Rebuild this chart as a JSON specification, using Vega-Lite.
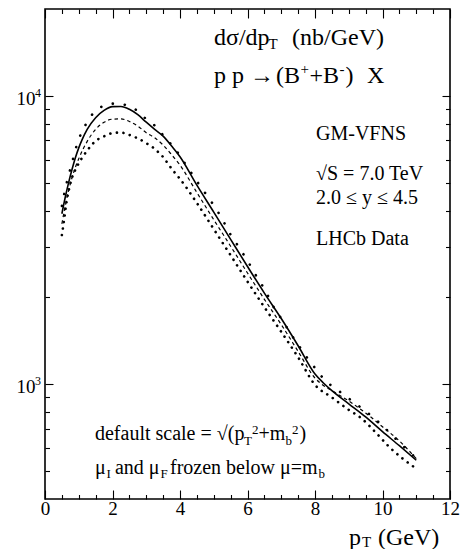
{
  "$schema": "https://vega.github.io/schema/vega-lite/v6.json",
  "width": 405,
  "height": 490,
  "autosize": {"type": "none"},
  "padding": {"left": 45, "right": 10, "top": 9, "bottom": 50},
  "background": "white",
  "config": {
    "view": {"stroke": "black", "strokeWidth": 1.6},
    "font": "Liberation Serif",
    "axis": {"domain": false, "grid": false, "labelFont": "Liberation Serif", "labelColor": "black", "tickColor": "black", "tickWidth": 1.1, "labelFlush": false, "labelOverlap": false, "title": null}
  },
  "datasets": {
    "solid": [
      {"pT": 0.5, "v": 3900}, {"pT": 0.6, "v": 4450}, {"pT": 0.7, "v": 5000}, {"pT": 0.8, "v": 5550}, {"pT": 0.9, "v": 6100},
      {"pT": 1.0, "v": 6600}, {"pT": 1.1, "v": 7050}, {"pT": 1.25, "v": 7650}, {"pT": 1.5, "v": 8400}, {"pT": 1.75, "v": 8900},
      {"pT": 2.0, "v": 9170}, {"pT": 2.25, "v": 9180}, {"pT": 2.5, "v": 8980}, {"pT": 2.75, "v": 8600}, {"pT": 3.0, "v": 8100},
      {"pT": 3.25, "v": 7650}, {"pT": 3.5, "v": 7250}, {"pT": 3.75, "v": 6700}, {"pT": 4.0, "v": 6150}, {"pT": 4.5, "v": 4900},
      {"pT": 5.0, "v": 3950}, {"pT": 5.5, "v": 3180}, {"pT": 6.0, "v": 2560}, {"pT": 6.5, "v": 2070}, {"pT": 7.0, "v": 1690},
      {"pT": 7.5, "v": 1360}, {"pT": 8.0, "v": 1085}, {"pT": 8.25, "v": 1010}, {"pT": 8.5, "v": 950}, {"pT": 9.0, "v": 855},
      {"pT": 9.5, "v": 770}, {"pT": 10.0, "v": 685}, {"pT": 10.5, "v": 612}, {"pT": 11.0, "v": 545}
    ],
    "dashed": [
      {"pT": 0.5, "v": 3600}, {"pT": 0.6, "v": 4150}, {"pT": 0.7, "v": 4700}, {"pT": 0.8, "v": 5200}, {"pT": 0.9, "v": 5650},
      {"pT": 1.0, "v": 6050}, {"pT": 1.25, "v": 6950}, {"pT": 1.5, "v": 7650}, {"pT": 1.75, "v": 8100}, {"pT": 2.0, "v": 8300},
      {"pT": 2.25, "v": 8320}, {"pT": 2.5, "v": 8150}, {"pT": 2.75, "v": 7850}, {"pT": 3.0, "v": 7450}, {"pT": 3.25, "v": 7150},
      {"pT": 3.5, "v": 6750}, {"pT": 3.75, "v": 6250}, {"pT": 4.0, "v": 5750}, {"pT": 4.5, "v": 4620}, {"pT": 5.0, "v": 3720},
      {"pT": 5.5, "v": 3010}, {"pT": 6.0, "v": 2430}, {"pT": 6.5, "v": 1970}, {"pT": 7.0, "v": 1610}, {"pT": 7.5, "v": 1300},
      {"pT": 8.0, "v": 1050}, {"pT": 8.25, "v": 990}, {"pT": 8.5, "v": 950}, {"pT": 9.0, "v": 875}, {"pT": 9.5, "v": 795},
      {"pT": 10.0, "v": 712}, {"pT": 10.5, "v": 636}, {"pT": 11.0, "v": 552}
    ],
    "upper": [
      {"pT": 0.5, "v": 4150}, {"pT": 0.6, "v": 4750}, {"pT": 0.7, "v": 5300}, {"pT": 0.8, "v": 5850}, {"pT": 0.9, "v": 6500},
      {"pT": 1.0, "v": 7050}, {"pT": 1.1, "v": 7550}, {"pT": 1.25, "v": 8100}, {"pT": 1.4, "v": 8620}, {"pT": 1.6, "v": 9050},
      {"pT": 1.8, "v": 9300}, {"pT": 2.05, "v": 9400}, {"pT": 2.4, "v": 9290}, {"pT": 2.72, "v": 8900}, {"pT": 3.0, "v": 8300},
      {"pT": 3.27, "v": 7850}, {"pT": 3.5, "v": 7300}, {"pT": 3.75, "v": 6760}, {"pT": 4.0, "v": 6200}, {"pT": 4.2, "v": 5700},
      {"pT": 4.4, "v": 5270}, {"pT": 4.6, "v": 4860}, {"pT": 4.8, "v": 4510}, {"pT": 5.0, "v": 4170}, {"pT": 5.2, "v": 3830},
      {"pT": 5.5, "v": 3300}, {"pT": 5.75, "v": 2980}, {"pT": 6.0, "v": 2680}, {"pT": 6.3, "v": 2330}, {"pT": 6.5, "v": 2140},
      {"pT": 6.8, "v": 1830}, {"pT": 7.0, "v": 1690}, {"pT": 7.2, "v": 1550}, {"pT": 7.4, "v": 1425}, {"pT": 7.6, "v": 1320},
      {"pT": 7.8, "v": 1220}, {"pT": 8.05, "v": 1120}, {"pT": 8.3, "v": 1030}, {"pT": 8.55, "v": 977}, {"pT": 8.85, "v": 921},
      {"pT": 9.15, "v": 865}, {"pT": 9.45, "v": 815}, {"pT": 10.0, "v": 718}, {"pT": 10.25, "v": 672}, {"pT": 10.5, "v": 628},
      {"pT": 10.75, "v": 590}, {"pT": 11.0, "v": 553}
    ],
    "lower": [
      {"pT": 0.5, "v": 3290}, {"pT": 0.55, "v": 3600}, {"pT": 0.65, "v": 4360}, {"pT": 0.72, "v": 4790}, {"pT": 0.8, "v": 5200},
      {"pT": 0.92, "v": 5600}, {"pT": 1.1, "v": 6100}, {"pT": 1.28, "v": 6530}, {"pT": 1.43, "v": 6850}, {"pT": 1.58, "v": 7080},
      {"pT": 1.78, "v": 7260}, {"pT": 1.98, "v": 7420}, {"pT": 2.22, "v": 7460}, {"pT": 2.4, "v": 7400}, {"pT": 2.57, "v": 7260},
      {"pT": 2.74, "v": 7130}, {"pT": 3.0, "v": 6850}, {"pT": 3.16, "v": 6670}, {"pT": 3.29, "v": 6490}, {"pT": 3.41, "v": 6280},
      {"pT": 3.53, "v": 6080}, {"pT": 3.65, "v": 5800}, {"pT": 3.8, "v": 5500}, {"pT": 4.0, "v": 5150}, {"pT": 4.5, "v": 4250},
      {"pT": 5.0, "v": 3450}, {"pT": 5.5, "v": 2800}, {"pT": 6.0, "v": 2270}, {"pT": 6.5, "v": 1850}, {"pT": 7.0, "v": 1520},
      {"pT": 7.5, "v": 1240}, {"pT": 8.0, "v": 995}, {"pT": 8.5, "v": 900}, {"pT": 9.0, "v": 815}, {"pT": 9.38, "v": 761},
      {"pT": 9.8, "v": 680}, {"pT": 10.22, "v": 603}, {"pT": 10.6, "v": 552}, {"pT": 11.0, "v": 510}
    ],
    "bigText": [
      {"x": 5.007, "y": 15036, "t": "dσ/dp"},
      {"x": 7.319, "y": 15036, "t": "(nb/GeV)"},
      {"x": 5.007, "y": 11068, "t": "p p →"},
      {"x": 6.844, "y": 11068, "t": "(B"},
      {"x": 7.837, "y": 11068, "t": "+B"},
      {"x": 8.904, "y": 11068, "t": ")"},
      {"x": 9.541, "y": 11068, "t": "X"}
    ],
    "axisTitle": [
      {"x": 9.007, "y": 276.1, "t": "p"},
      {"x": 9.867, "y": 276.1, "t": "(GeV)"}
    ],
    "smallText": [
      {"x": 6.622, "y": 14506, "t": "T"},
      {"x": 7.57, "y": 11923, "t": "+"},
      {"x": 8.726, "y": 11923, "t": "-"},
      {"x": 9.393, "y": 271.7, "t": "T"}
    ],
    "ySup": [
      {"x": -0.296, "y": 9944, "t": "4"},
      {"x": -0.296, "y": 994.4, "t": "3"}
    ],
    "infoText": [
      {"x": 8.03, "y": 7035, "t": "GM-VFNS"},
      {"x": 8.03, "y": 5110, "t": "√S = 7.0 TeV"},
      {"x": 8.03, "y": 4200, "t": "2.0 ≤  y ≤ 4.5"},
      {"x": 8.03, "y": 3030, "t": "LHCb Data"}
    ],
    "noteText": [
      {"x": 1.481, "y": 639.0, "t": "default scale = √(p"},
      {"x": 6.326, "y": 639.0, "t": "+m"},
      {"x": 7.541, "y": 639.0, "t": ")"},
      {"x": 1.481, "y": 489.7, "t": "μ"},
      {"x": 2.074, "y": 489.7, "t": "and μ"},
      {"x": 3.704, "y": 489.7, "t": "frozen below μ=m"}
    ],
    "noteSub": [
      {"x": 5.896, "y": 614, "t": "T"},
      {"x": 6.133, "y": 670.6, "t": "2"},
      {"x": 7.126, "y": 614, "t": "b"},
      {"x": 7.319, "y": 670.6, "t": "2"},
      {"x": 1.822, "y": 471.6, "t": "I"},
      {"x": 3.422, "y": 471.6, "t": "F"},
      {"x": 8.104, "y": 471.6, "t": "b"}
    ]
  },
  "resolve": {"axis": {"x": "independent", "y": "independent"}},
  "layer": [
    {
      "data": {"name": "solid"},
      "mark": {"type": "line", "color": "black", "strokeWidth": 1.6, "interpolate": "monotone"},
      "encoding": {
        "x": {"field": "pT", "type": "quantitative", "scale": {"domain": [0, 12], "nice": false, "zero": false},
          "axis": {"orient": "bottom", "values": [0,0.5,1,1.5,2,2.5,3,3.5,4,4.5,5,5.5,6,6.5,7,7.5,8,8.5,9,9.5,10,10.5,11,11.5,12],
            "labelExpr": "datum.value % 2 == 0 ? format(datum.value, 'd') : ''",
            "tickSize": {"condition": {"test": "datum.value % 2 == 0", "value": -9}, "value": -4.5},
            "labelFontSize": 19, "labelPadding": 9.5}},
        "y": {"field": "v", "type": "quantitative", "scale": {"type": "log", "domain": [400, 20000], "nice": false},
          "axis": {"orient": "left", "values": [500,600,700,800,900,1000,2000,3000,4000,5000,6000,7000,8000,9000,10000],
            "labelExpr": "datum.value == 10000 || datum.value == 1000 ? '10' : ''",
            "tickSize": {"condition": {"test": "datum.value == 1000 || datum.value == 10000", "value": -8}, "value": -4.5},
            "labelFontSize": 19, "labelPadding": 18, "labelOffset": 2.5}}
      }
    },
    {
      "data": {"name": "dashed"},
      "mark": {"type": "line", "color": "black", "strokeWidth": 1.2, "strokeDash": [3.5, 3], "interpolate": "monotone"},
      "encoding": {
        "x": {"field": "pT", "type": "quantitative", "scale": {"domain": [0, 12], "nice": false, "zero": false},
          "axis": {"orient": "top", "values": [0,0.5,1,1.5,2,2.5,3,3.5,4,4.5,5,5.5,6,6.5,7,7.5,8,8.5,9,9.5,10,10.5,11,11.5,12],
            "labels": false,
            "tickSize": {"condition": {"test": "datum.value % 2 == 0", "value": -9}, "value": -4.5}}},
        "y": {"field": "v", "type": "quantitative", "scale": {"type": "log", "domain": [400, 20000], "nice": false},
          "axis": {"orient": "right", "values": [500,600,700,800,900,1000,2000,3000,4000,5000,6000,7000,8000,9000,10000],
            "labels": false,
            "tickSize": {"condition": {"test": "datum.value == 1000 || datum.value == 10000", "value": -8}, "value": -4.5}}}
      }
    },
    {
      "data": {"name": "upper"},
      "mark": {"type": "line", "color": "black", "strokeWidth": 2.6, "strokeDash": [0.1, 12], "strokeCap": "round", "interpolate": "monotone"},
      "encoding": {
        "x": {"field": "pT", "type": "quantitative", "scale": {"domain": [0, 12], "nice": false, "zero": false}, "axis": null},
        "y": {"field": "v", "type": "quantitative", "scale": {"type": "log", "domain": [400, 20000], "nice": false}, "axis": null}
      }
    },
    {
      "data": {"name": "lower"},
      "mark": {"type": "line", "color": "black", "strokeWidth": 2.6, "strokeDash": [0.1, 6.5], "strokeCap": "round", "interpolate": "monotone"},
      "encoding": {
        "x": {"field": "pT", "type": "quantitative", "scale": {"domain": [0, 12], "nice": false, "zero": false}, "axis": null},
        "y": {"field": "v", "type": "quantitative", "scale": {"type": "log", "domain": [400, 20000], "nice": false}, "axis": null}
      }
    },
    {
      "data": {"name": "bigText"},
      "mark": {"type": "text", "align": "left", "baseline": "alphabetic", "font": "Liberation Serif", "fontSize": 24, "color": "black"},
      "encoding": {
        "x": {"field": "x", "type": "quantitative", "scale": {"domain": [0, 12], "nice": false, "zero": false}, "axis": null},
        "y": {"field": "y", "type": "quantitative", "scale": {"type": "log", "domain": [400, 20000], "nice": false}, "axis": null},
        "text": {"field": "t"}
      }
    },
    {
      "data": {"name": "axisTitle"},
      "mark": {"type": "text", "align": "left", "baseline": "alphabetic", "font": "Liberation Serif", "fontSize": 24, "color": "black"},
      "encoding": {
        "x": {"field": "x", "type": "quantitative", "scale": {"domain": [0, 12], "nice": false, "zero": false}, "axis": null},
        "y": {"field": "y", "type": "quantitative", "scale": {"type": "log", "domain": [400, 20000], "nice": false}, "axis": null},
        "text": {"field": "t"}
      }
    },
    {
      "data": {"name": "smallText"},
      "mark": {"type": "text", "align": "left", "baseline": "alphabetic", "font": "Liberation Serif", "fontSize": 15, "color": "black"},
      "encoding": {
        "x": {"field": "x", "type": "quantitative", "scale": {"domain": [0, 12], "nice": false, "zero": false}, "axis": null},
        "y": {"field": "y", "type": "quantitative", "scale": {"type": "log", "domain": [400, 20000], "nice": false}, "axis": null},
        "text": {"field": "t"}
      }
    },
    {
      "data": {"name": "ySup"},
      "mark": {"type": "text", "align": "left", "baseline": "alphabetic", "font": "Liberation Serif", "fontSize": 12, "color": "black"},
      "encoding": {
        "x": {"field": "x", "type": "quantitative", "scale": {"domain": [0, 12], "nice": false, "zero": false}, "axis": null},
        "y": {"field": "y", "type": "quantitative", "scale": {"type": "log", "domain": [400, 20000], "nice": false}, "axis": null},
        "text": {"field": "t"}
      }
    },
    {
      "data": {"name": "infoText"},
      "mark": {"type": "text", "align": "left", "baseline": "alphabetic", "font": "Liberation Serif", "fontSize": 20, "color": "black"},
      "encoding": {
        "x": {"field": "x", "type": "quantitative", "scale": {"domain": [0, 12], "nice": false, "zero": false}, "axis": null},
        "y": {"field": "y", "type": "quantitative", "scale": {"type": "log", "domain": [400, 20000], "nice": false}, "axis": null},
        "text": {"field": "t"}
      }
    },
    {
      "data": {"name": "noteText"},
      "mark": {"type": "text", "align": "left", "baseline": "alphabetic", "font": "Liberation Serif", "fontSize": 20, "color": "black"},
      "encoding": {
        "x": {"field": "x", "type": "quantitative", "scale": {"domain": [0, 12], "nice": false, "zero": false}, "axis": null},
        "y": {"field": "y", "type": "quantitative", "scale": {"type": "log", "domain": [400, 20000], "nice": false}, "axis": null},
        "text": {"field": "t"}
      }
    },
    {
      "data": {"name": "noteSub"},
      "mark": {"type": "text", "align": "left", "baseline": "alphabetic", "font": "Liberation Serif", "fontSize": 13, "color": "black"},
      "encoding": {
        "x": {"field": "x", "type": "quantitative", "scale": {"domain": [0, 12], "nice": false, "zero": false}, "axis": null},
        "y": {"field": "y", "type": "quantitative", "scale": {"type": "log", "domain": [400, 20000], "nice": false}, "axis": null},
        "text": {"field": "t"}
      }
    }
  ]
}
